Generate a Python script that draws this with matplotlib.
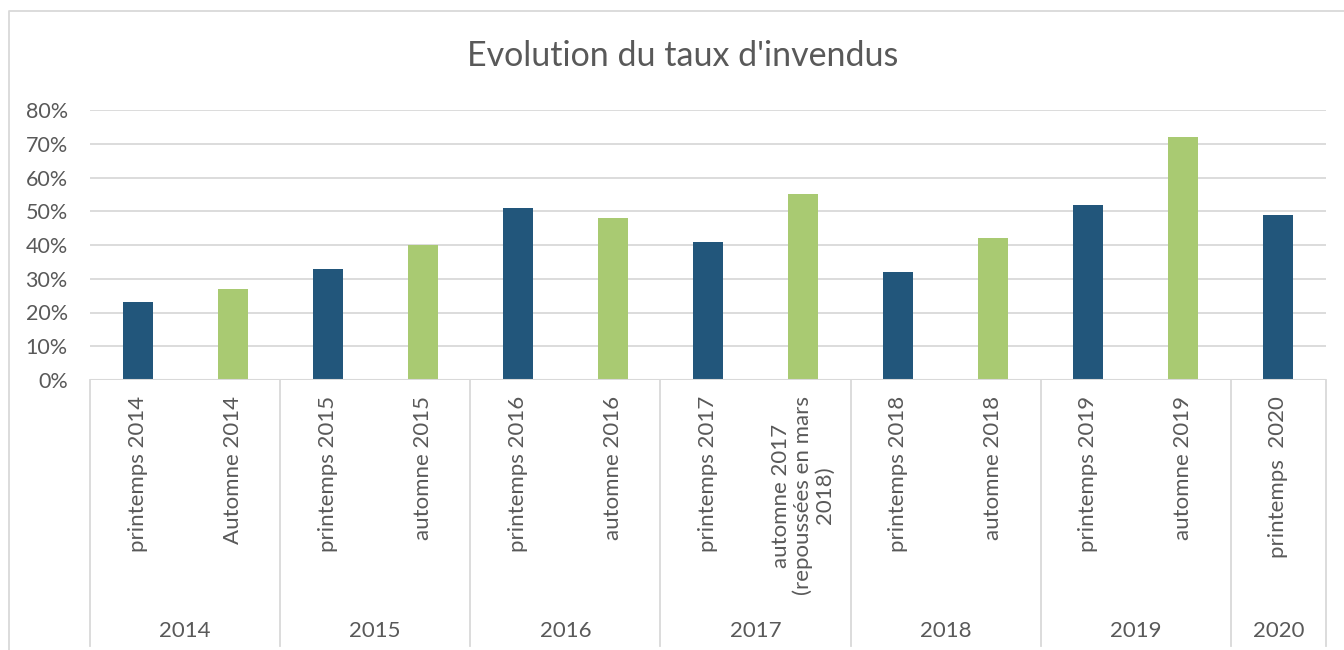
import matplotlib
matplotlib.use("Agg")
import matplotlib.pyplot as plt
import matplotlib.transforms as mtransforms
from matplotlib.lines import Line2D
from matplotlib.ticker import FuncFormatter

# data
labels = ["printemps 2014", "Automne 2014", "printemps 2015", "automne 2015",
          "printemps 2016", "automne 2016", "printemps 2017",
          "automne 2017\n(repoussées en mars\n2018)", "printemps 2018",
          "automne 2018", "printemps 2019", "automne 2019", "printemps  2020"]
taux = [0.23, 0.27, 0.33, 0.40, 0.51, 0.48, 0.41, 0.55, 0.32, 0.42, 0.52, 0.72, 0.49]
saison = ["p", "a", "p", "a", "p", "a", "p", "a", "p", "a", "p", "a", "p"]
annees = ["2014", "2015", "2016", "2017", "2018", "2019", "2020"]
nb_par_annee = [2, 2, 2, 2, 2, 2, 1]

BLUE = "#22567b"
GREEN = "#a9ca72"
GRID = "#d9d9d9"
TXT = "#595959"
W, H = 1344, 650

plt.rcParams['font.family'] = ['Lato', 'DejaVu Sans']

fig = plt.figure(figsize=(W / 100, H / 100), dpi=100)
ax = fig.add_axes([90 / W, 1 - 380 / H, (1326 - 90) / W, 270 / H])

x = list(range(len(taux)))
colors = [BLUE if s == "p" else GREEN for s in saison]
ax.bar(x, taux, width=0.315, color=colors, zorder=3)

ax.set_xlim(-0.5, len(taux) - 0.5)
ax.set_ylim(0, 0.8)
ax.set_yticks([i / 10 for i in range(9)])
ax.yaxis.set_major_formatter(FuncFormatter(lambda v, p: "%d%%" % round(v * 100)))
ax.tick_params(axis="y", length=0, pad=16, labelsize=15.5, labelcolor=TXT)
ax.set_xticks([])
ax.grid(axis="y", color=GRID, linewidth=1.3, zorder=0)
for s in ax.spines.values():
    s.set_visible(False)
ax.axhline(0, color=GRID, linewidth=1.5, zorder=4)

# category labels (rotated) and year groups
tr = mtransforms.blended_transform_factory(ax.transData, fig.transFigure)
for i, lab in enumerate(labels):
    ax.text(i, 1 - 396 / H, lab, rotation=90, ha="center", va="top",
            multialignment="center", fontsize=16, color=TXT, transform=tr,
            linespacing=1.12)

start = 0
bounds = [-0.5]
for yr, n in zip(annees, nb_par_annee):
    mid = start + (n - 1) / 2
    ax.text(mid, 1 - 631 / H, yr, ha="center", va="center", fontsize=16,
            color=TXT, transform=tr)
    start += n
    bounds.append(start - 0.5)

for b in bounds:
    fig.add_artist(Line2D([b, b], [1 - 380 / H, 1 - 646 / H], color=GRID,
                          linewidth=1.3, transform=tr))

# outer chart border
fig.add_artist(Line2D([9 / W, 9 / W, 1.0], [0.0, 1 - 11 / H, 1 - 11 / H],
                      color=GRID, linewidth=1.3, transform=fig.transFigure))

fig.text(683 / W, 1 - 56 / H, "Evolution du taux d'invendus", ha="center",
         va="center", fontsize=24.5, color=TXT)

plt.savefig("out.png", dpi=100)
